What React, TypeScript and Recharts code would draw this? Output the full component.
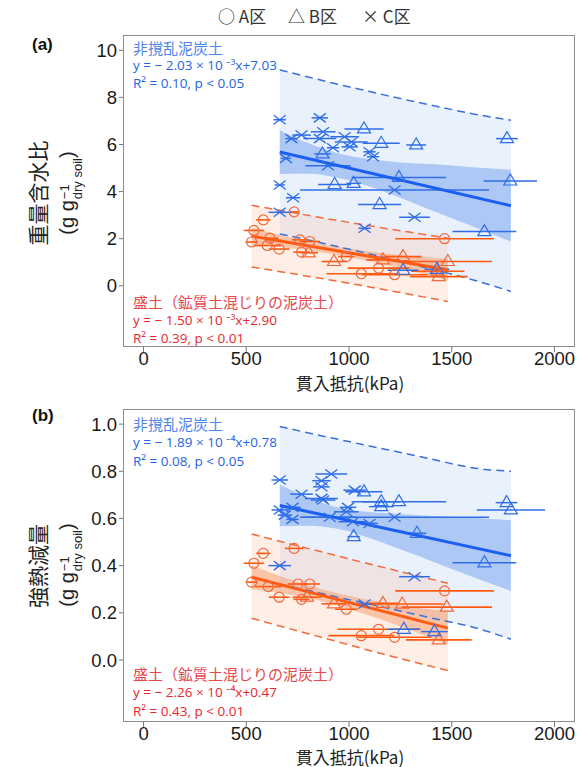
import { ComposedChart, Area, Line, Scatter, ErrorBar, XAxis, YAxis } from 'recharts';

const xTicks = [0, 500, 1000, 1500, 2000];
const yTicksA = [0, 2, 4, 6, 8, 10];
const yTicksB = [0, 0.2, 0.4, 0.6, 0.8, 1.0];

// (a) 重量含水比 — 非撹乱泥炭土 (blue), 盛土 (orange)
const aPeatCross = [
  { x: 663, y: 7.05, e: 30 }, { x: 858, y: 7.13, e: 40 }, { x: 769, y: 6.40, e: 45 }, { x: 720, y: 6.25, e: 30 },
  { x: 874, y: 6.54, e: 60 }, { x: 858, y: 6.25, e: 80 }, { x: 979, y: 6.33, e: 70 }, { x: 1011, y: 6.11, e: 80 },
  { x: 1003, y: 5.90, e: 40 }, { x: 922, y: 5.86, e: 30 }, { x: 1100, y: 5.69, e: 30 }, { x: 1117, y: 5.48, e: 30 },
  { x: 693, y: 5.41, e: 25 }, { x: 898, y: 5.10, e: 110 }, { x: 663, y: 4.28, e: 25 }, { x: 728, y: 3.74, e: 35 },
  { x: 1222, y: 4.07, e: 460 }, { x: 663, y: 3.12, e: 55 }, { x: 1319, y: 2.91, e: 75 }, { x: 1076, y: 2.44, e: 30 },
];
const aPeatTri = [
  { x: 1073, y: 6.66, e: 95 }, { x: 1157, y: 6.05, e: 90 }, { x: 1327, y: 5.98, e: 48 }, { x: 1769, y: 6.25, e: 53 },
  { x: 871, y: 5.60, e: 40 }, { x: 1243, y: 4.60, e: 230 }, { x: 930, y: 4.30, e: 80 }, { x: 1023, y: 4.35, e: 35 },
  { x: 1785, y: 4.45, e: 130 }, { x: 1149, y: 3.45, e: 105 }, { x: 1659, y: 2.30, e: 155 }, { x: 1263, y: 0.66, e: 75 },
  { x: 1428, y: 0.70, e: 60 },
];
const aFillCircle = [
  { x: 733, y: 3.14, e: 25 }, { x: 583, y: 2.80, e: 35 }, { x: 537, y: 2.35, e: 50 }, { x: 526, y: 1.86, e: 30 },
  { x: 602, y: 1.71, e: 65 }, { x: 615, y: 2.02, e: 40 }, { x: 660, y: 1.56, e: 50 }, { x: 761, y: 1.95, e: 40 },
  { x: 809, y: 1.88, e: 50 }, { x: 769, y: 1.43, e: 40 }, { x: 987, y: 1.24, e: 40 }, { x: 1060, y: 0.51, e: 170 },
  { x: 1144, y: 0.75, e: 150 }, { x: 1222, y: 0.47, e: 160 }, { x: 1465, y: 2.00, e: 240 },
];
const aFillTri = [
  { x: 804, y: 1.40, e: 45 }, { x: 927, y: 1.03, e: 60 }, { x: 1165, y: 1.10, e: 80 }, { x: 1263, y: 1.24, e: 90 },
  { x: 1481, y: 1.03, e: 215 }, { x: 1432, y: 0.62, e: 130 }, { x: 1437, y: 0.39, e: 140 },
];
const aPeatFit = [{ x: 663, y: 5.68 }, { x: 1788, y: 3.40 }];
const aFillFit = [{ x: 526, y: 2.11 }, { x: 1481, y: 0.68 }];

const peatBandX = [663, 800, 950, 1100, 1250, 1400, 1600, 1788];
const aPeatCiHi = [6.61, 6.06, 5.62, 5.38, 5.24, 5.17, 5.03, 4.92];
const aPeatCiLo = [4.75, 4.76, 4.58, 4.22, 3.74, 3.21, 2.53, 1.88];
const aPeatPiHi = [9.17, 8.87, 8.55, 8.25, 7.95, 7.67, 7.31, 7.03];
const aPeatPiLo = [2.20, 1.95, 1.65, 1.35, 1.04, 0.71, 0.26, -0.24];

const fillBandX = [526, 700, 900, 1100, 1300, 1481];
const aFillCiHi = [2.46, 2.09, 1.73, 1.46, 1.27, 1.14];
const aFillCiLo = [1.76, 1.61, 1.37, 1.04, 0.63, 0.22];
const aFillPiHi = [3.42, 3.15, 2.84, 2.55, 2.27, 2.02];
const aFillPiLo = [0.80, 0.55, 0.26, -0.05, -0.37, -0.67];

// (b) 強熱減量
const bPeatCross = [
  { x: 663, y: 0.763, e: 40 }, { x: 914, y: 0.788, e: 77 }, { x: 866, y: 0.760, e: 45 }, { x: 866, y: 0.734, e: 40 },
  { x: 866, y: 0.685, e: 80 }, { x: 769, y: 0.703, e: 55 }, { x: 1028, y: 0.720, e: 55 }, { x: 995, y: 0.647, e: 40 },
  { x: 874, y: 0.678, e: 60 }, { x: 663, y: 0.636, e: 40 }, { x: 688, y: 0.614, e: 35 }, { x: 725, y: 0.596, e: 30 },
  { x: 725, y: 0.647, e: 40 }, { x: 906, y: 0.605, e: 130 }, { x: 987, y: 0.628, e: 60 }, { x: 1019, y: 0.586, e: 70 },
  { x: 1100, y: 0.579, e: 40 }, { x: 1222, y: 0.605, e: 460 }, { x: 663, y: 0.400, e: 55 }, { x: 1319, y: 0.353, e: 75 },
  { x: 1076, y: 0.237, e: 35 },
];
const bPeatTri = [
  { x: 1073, y: 0.713, e: 90 }, { x: 1157, y: 0.671, e: 90 }, { x: 1157, y: 0.650, e: 60 }, { x: 1243, y: 0.671, e: 230 },
  { x: 1023, y: 0.523, e: 30 }, { x: 1331, y: 0.537, e: 45 }, { x: 1767, y: 0.667, e: 53 }, { x: 1788, y: 0.636, e: 166 },
  { x: 1659, y: 0.412, e: 155 }, { x: 1267, y: 0.130, e: 80 }, { x: 1416, y: 0.120, e: 65 },
];
const bFillCircle = [
  { x: 733, y: 0.473, e: 45 }, { x: 583, y: 0.452, e: 35 }, { x: 537, y: 0.410, e: 50 }, { x: 526, y: 0.330, e: 30 },
  { x: 607, y: 0.311, e: 65 }, { x: 752, y: 0.322, e: 50 }, { x: 809, y: 0.322, e: 50 }, { x: 660, y: 0.266, e: 50 },
  { x: 769, y: 0.257, e: 40 }, { x: 987, y: 0.215, e: 55 }, { x: 1465, y: 0.293, e: 240 }, { x: 1060, y: 0.103, e: 160 },
  { x: 1144, y: 0.130, e: 200 }, { x: 1222, y: 0.096, e: 180 },
];
const bFillTri = [
  { x: 796, y: 0.266, e: 70 }, { x: 927, y: 0.238, e: 60 }, { x: 1165, y: 0.240, e: 80 }, { x: 1259, y: 0.237, e: 200 },
  { x: 1476, y: 0.224, e: 220 }, { x: 1437, y: 0.085, e: 160 },
];
const bPeatFit = [{ x: 663, y: 0.655 }, { x: 1788, y: 0.442 }];
const bFillFit = [{ x: 526, y: 0.351 }, { x: 1481, y: 0.135 }];

const bPeatCiHi = [0.743, 0.689, 0.645, 0.627, 0.619, 0.610, 0.603, 0.592];
const bPeatCiLo = [0.567, 0.569, 0.555, 0.517, 0.469, 0.420, 0.353, 0.292];
const bPeatPiHi = [0.990, 0.963, 0.935, 0.907, 0.880, 0.852, 0.815, 0.800];
const bPeatPiLo = [0.320, 0.295, 0.265, 0.237, 0.208, 0.178, 0.140, 0.088];

const bFillCiHi = [0.400, 0.344, 0.292, 0.254, 0.226, 0.205];
const bFillCiLo = [0.300, 0.280, 0.242, 0.188, 0.126, 0.065];
const bFillPiHi = [0.534, 0.495, 0.451, 0.407, 0.364, 0.325];
const bFillPiLo = [0.177, 0.135, 0.088, 0.040, -0.005, -0.045];

const BLUE = '#1a5ff0';
const BLUE_MK = '#2f6ee6';
const ORANGE = '#ff5a10';
const ORANGE_MK = '#f2683a';
const NUM_FONT = '"Liberation Sans", Arial, sans-serif';
const JP_FONT = '"Noto Sans CJK JP", "Noto Sans", sans-serif';
const EQ_FONT = '"Open Sans", "Noto Sans", "DejaVu Sans", sans-serif';

const mkBand = (xs: number[], piLo: number[], piHi: number[], ciLo: number[], ciHi: number[]) =>
  xs.map((x, i) => ({ x, pi: [piLo[i], piHi[i]], ci: [ciLo[i], ciHi[i]], piLo: piLo[i], piHi: piHi[i] }));

const circleShape = (color: string) => (p: any) =>
  <circle cx={p.cx} cy={p.cy} r={5} fill="none" stroke={color} strokeWidth={1.2} />;
const triShape = (color: string) => (p: any) =>
  <polygon points={`${p.cx},${p.cy - 7} ${p.cx - 6.5},${p.cy + 4} ${p.cx + 6.5},${p.cy + 4}`} fill="none" stroke={color} strokeWidth={1.2} />;
const crossShape = (color: string) => (p: any) => (
  <g stroke={color} strokeWidth={1.3}>
    <line x1={p.cx - 6} y1={p.cy - 4.5} x2={p.cx + 6} y2={p.cy + 4.5} />
    <line x1={p.cx - 6} y1={p.cy + 4.5} x2={p.cx + 6} y2={p.cy - 4.5} />
  </g>
);

function Txt({ x, y, size, color, children, weight, font }: any) {
  return (
    <div style={{ position: 'absolute', left: x, top: y, transform: 'translateY(-50%)', fontSize: size, color, fontWeight: weight || 'normal', fontFamily: font || JP_FONT, whiteSpace: 'nowrap', lineHeight: 1 }}>
      {children}
    </div>
  );
}

function VTxt({ x, y, size, children, font }: any) {
  return (
    <div style={{ position: 'absolute', left: x, top: y, transform: 'translate(-50%, -50%) rotate(-90deg)', fontSize: size, color: '#222', fontFamily: font || JP_FONT, whiteSpace: 'nowrap', lineHeight: 1 }}>
      {children}
    </div>
  );
}

function Unit({ x, y }: any) {
  return (
    <VTxt x={x} y={y} size={20} font={NUM_FONT}>
      (g g
      <span style={{ display: 'inline-flex', flexDirection: 'column', fontSize: 13, lineHeight: 1, verticalAlign: '0.42em', marginLeft: 1 }}>
        <span>−1</span>
        <span>dry soil</span>
      </span>
      )
    </VTxt>
  );
}

function Eq({ x, y, color, coef, exp, icpt }: any) {
  return (
    <Txt x={x} y={y} size={13.5} color={color} font={EQ_FONT}>
      {`y = − ${coef} × 10 ⁻${exp}x+${icpt}`}
    </Txt>
  );
}

function R2({ x, y, color, r2, p }: any) {
  return (
    <Txt x={x} y={y} size={13.5} color={color} font={EQ_FONT}>
      {`R² = ${r2}, p < ${p}`}
    </Txt>
  );
}

function Panel({ top, height, mTop, mBottom, yDomain, yTicks, fmt, peat, fill }: any) {
  const tick = { fill: '#1a1a1a', fontSize: 18.5, fontFamily: NUM_FONT };
  return (
    <div style={{ position: 'absolute', left: 0, top }}>
      <ComposedChart width={583} height={height} margin={{ top: mTop, right: 8, bottom: mBottom, left: 0 }}>
        <XAxis type="number" dataKey="x" domain={[-100, 2100]} ticks={xTicks} allowDataOverflow axisLine={false}
          tickLine={{ stroke: '#777' }} tickSize={5} tickMargin={0} tick={tick} height={30} />
        <YAxis type="number" dataKey="y" domain={yDomain} ticks={yTicks} allowDataOverflow axisLine={false}
          tickLine={{ stroke: '#777' }} tickSize={4} tickMargin={2} tick={tick} width={123} tickFormatter={fmt} />
        <Area data={peat.band} dataKey="pi" type="monotone" stroke="none" fill="#cfe0fa" fillOpacity={0.45} isAnimationActive={false} activeDot={false} />
        <Area data={fill.band} dataKey="pi" type="monotone" stroke="none" fill="#fbc9ad" fillOpacity={0.32} isAnimationActive={false} activeDot={false} />
        <Area data={peat.band} dataKey="ci" type="monotone" stroke="none" fill="#7ea5ee" fillOpacity={0.55} isAnimationActive={false} activeDot={false} />
        <Area data={fill.band} dataKey="ci" type="monotone" stroke="none" fill="#f59a6e" fillOpacity={0.5} isAnimationActive={false} activeDot={false} />
        <Line data={peat.band} dataKey="piHi" type="monotone" stroke="#3a6fd8" strokeWidth={1.5} strokeDasharray="8 5" dot={false} activeDot={false} isAnimationActive={false} />
        <Line data={peat.band} dataKey="piLo" type="monotone" stroke="#3a6fd8" strokeWidth={1.5} strokeDasharray="8 5" dot={false} activeDot={false} isAnimationActive={false} />
        <Line data={fill.band} dataKey="piHi" type="monotone" stroke="#ef6a3c" strokeWidth={1.5} strokeDasharray="8 5" dot={false} activeDot={false} isAnimationActive={false} />
        <Line data={fill.band} dataKey="piLo" type="monotone" stroke="#ef6a3c" strokeWidth={1.5} strokeDasharray="8 5" dot={false} activeDot={false} isAnimationActive={false} />
        <Scatter data={fill.circle} shape={circleShape(ORANGE_MK)} isAnimationActive={false}>
          <ErrorBar dataKey="e" direction="x" width={0} stroke={ORANGE} strokeWidth={1.6} />
        </Scatter>
        <Scatter data={fill.tri} shape={triShape(ORANGE_MK)} isAnimationActive={false}>
          <ErrorBar dataKey="e" direction="x" width={0} stroke={ORANGE} strokeWidth={1.6} />
        </Scatter>
        <Scatter data={peat.tri} shape={triShape(BLUE_MK)} isAnimationActive={false}>
          <ErrorBar dataKey="e" direction="x" width={0} stroke={BLUE_MK} strokeWidth={1.5} />
        </Scatter>
        <Scatter data={peat.cross} shape={crossShape(BLUE_MK)} isAnimationActive={false}>
          <ErrorBar dataKey="e" direction="x" width={0} stroke={BLUE_MK} strokeWidth={1.5} />
        </Scatter>
        <Line data={peat.fit} dataKey="y" type="linear" stroke={BLUE} strokeWidth={3} dot={false} activeDot={false} isAnimationActive={false} />
        <Line data={fill.fit} dataKey="y" type="linear" stroke={ORANGE} strokeWidth={3} dot={false} activeDot={false} isAnimationActive={false} />
      </ComposedChart>
    </div>
  );
}

export default function App() {
  const peatA = { cross: aPeatCross, tri: aPeatTri, fit: aPeatFit, band: mkBand(peatBandX, aPeatPiLo, aPeatPiHi, aPeatCiLo, aPeatCiHi) };
  const fillA = { circle: aFillCircle, tri: aFillTri, fit: aFillFit, band: mkBand(fillBandX, aFillPiLo, aFillPiHi, aFillCiLo, aFillCiHi) };
  const peatB = { cross: bPeatCross, tri: bPeatTri, fit: bPeatFit, band: mkBand(peatBandX, bPeatPiLo, bPeatPiHi, bPeatCiLo, bPeatCiHi) };
  const fillB = { circle: bFillCircle, tri: bFillTri, fit: bFillFit, band: mkBand(fillBandX, bFillPiLo, bFillPiHi, bFillCiLo, bFillCiHi) };
  const blueT = '#4f86e4';
  const blueE = '#1f63e3';
  const redT = '#e5484d';
  const redE = '#e8262e';
  const xTitle = { position: 'absolute' as const, left: 350, transform: 'translate(-50%, -50%)', fontSize: 17, fontFamily: JP_FONT, color: '#222', whiteSpace: 'nowrap' as const, lineHeight: 1 };
  return (
    <div style={{ position: 'absolute', left: 0, top: 0, width: 583, height: 767, background: '#fff', overflow: 'hidden' }}>
      <Panel top={0} height={395} mTop={35} mBottom={18} yDomain={[-2.6, 10.65]} yTicks={yTicksA} fmt={(v: number) => String(v)} peat={peatA} fill={fillA} />
      <Panel top={380} height={387} mTop={29} mBottom={15} yDomain={[-0.263, 1.064]} yTicks={yTicksB} fmt={(v: number) => v.toFixed(1)} peat={peatB} fill={fillB} />

      <div style={{ position: 'absolute', left: 123, top: 35, width: 452, height: 312, border: '1.5px solid #8c8c8c', boxSizing: 'border-box', pointerEvents: 'none' }} />
      <div style={{ position: 'absolute', left: 123, top: 409, width: 452, height: 313, border: '1.5px solid #8c8c8c', boxSizing: 'border-box', pointerEvents: 'none' }} />

      <Txt x={218} y={15} size={17} color="#333">○ A区</Txt>
      <Txt x={288} y={15} size={17} color="#333">△ B区</Txt>
      <Txt x={362} y={15} size={17} color="#333">× C区</Txt>

      <Txt x={32} y={44} size={17} color="#111" weight="bold" font={NUM_FONT}>(a)</Txt>
      <Txt x={32} y={415} size={17} color="#111" weight="bold" font={NUM_FONT}>(b)</Txt>

      <VTxt x={37} y={193} size={21}>重量含水比</VTxt>
      <Unit x={70} y={193} />
      <VTxt x={37} y={566} size={21}>強熱減量</VTxt>
      <Unit x={70} y={565} />

      <div style={{ ...xTitle, top: 382 }}>貫入抵抗(kPa)</div>
      <div style={{ ...xTitle, top: 756 }}>貫入抵抗(kPa)</div>

      <Txt x={133} y={47} size={15} color={blueT}>非撹乱泥炭土</Txt>
      <Eq x={133} y={66} color={blueE} coef="2.03" exp="³" icpt="7.03" />
      <R2 x={133} y={84} color={blueE} r2="0.10" p="0.05" />
      <Txt x={133} y={301} size={15} color={redT}>盛土（鉱質土混じりの泥炭土）</Txt>
      <Eq x={133} y={321} color={redE} coef="1.50" exp="³" icpt="2.90" />
      <R2 x={133} y={339} color={redE} r2="0.39" p="0.01" />

      <Txt x={133} y={423} size={15} color={blueT}>非撹乱泥炭土</Txt>
      <Eq x={133} y={443} color={blueE} coef="1.89" exp="⁴" icpt="0.78" />
      <R2 x={133} y={462} color={blueE} r2="0.08" p="0.05" />
      <Txt x={133} y={673} size={15} color={redT}>盛土（鉱質土混じりの泥炭土）</Txt>
      <Eq x={133} y={693} color={redE} coef="2.26" exp="⁴" icpt="0.47" />
      <R2 x={133} y={712} color={redE} r2="0.43" p="0.01" />
    </div>
  );
}
